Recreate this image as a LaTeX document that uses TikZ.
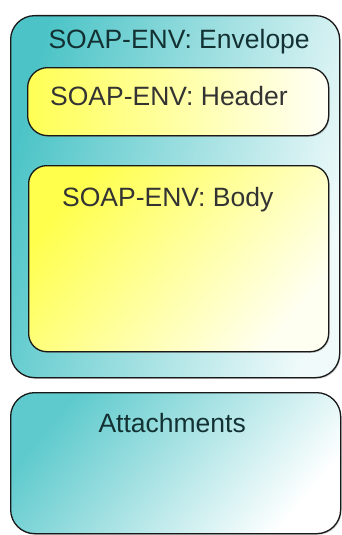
\documentclass[tikz,border=0pt]{standalone}
\usepackage{fontspec}
\setmainfont{Liberation Sans}
\usetikzlibrary{positioning, shadows}
\definecolor{EnvTeal}{HTML}{4CC4C7}
\definecolor{PartYellow}{HTML}{FFFF55}

\tikzset{
  part/.style={draw=black!90, line width=1.3pt, inner sep=0pt, anchor=north west,
    drop shadow={shadow xshift=1pt, shadow yshift=-1.2pt, opacity=0.4}},
  caption/.style={font=\fontsize{26.5}{30}\selectfont, text=black!80, inner sep=0pt},
}

\begin{document}
\begin{tikzpicture}[x=1pt, y=-1pt]
  \useasboundingbox (0,0) rectangle (341,535);

  % Envelope with header and body inside
  \node[part, rounded corners=24pt, minimum width=329pt, minimum height=362pt,
    left color=EnvTeal, right color=EnvTeal!8!white, shading angle=75] (envelope) at (10,15) {};
  \node[part, rounded corners=20pt, minimum width=301pt, minimum height=68pt,
    left color=PartYellow, right color=PartYellow!5!white, shading angle=90] (header) at (27,67) {};
  \node[part, rounded corners=18pt, minimum width=300pt, minimum height=186pt,
    left color=PartYellow!90!yellow, right color=PartYellow!8!white, shading angle=50] (body) at (28,165) {};

  % Attachments below
  \node[part, rounded corners=24pt, minimum width=330pt, minimum height=141pt,
    left color=EnvTeal!90, right color=white, shading angle=50] (attach) at (10,392) {};

  % Captions
  \node[caption, text=black!75!EnvTeal, below=14pt of envelope.north, xshift=4pt] (envtext) {SOAP-ENV: Envelope};
  \node[caption, anchor=north west, below right=19pt and 23pt of header.north west] (hdrtext) {SOAP-ENV: Header};
  \node[caption, anchor=north west, below right=22pt and 34pt of body.north west] (bodytext) {SOAP-ENV: Body};
  \node[caption, text=black!75!EnvTeal, below=21pt of attach.north, xshift=-3.5pt] (attachtext) {Attachments};
\end{tikzpicture}
\end{document}
